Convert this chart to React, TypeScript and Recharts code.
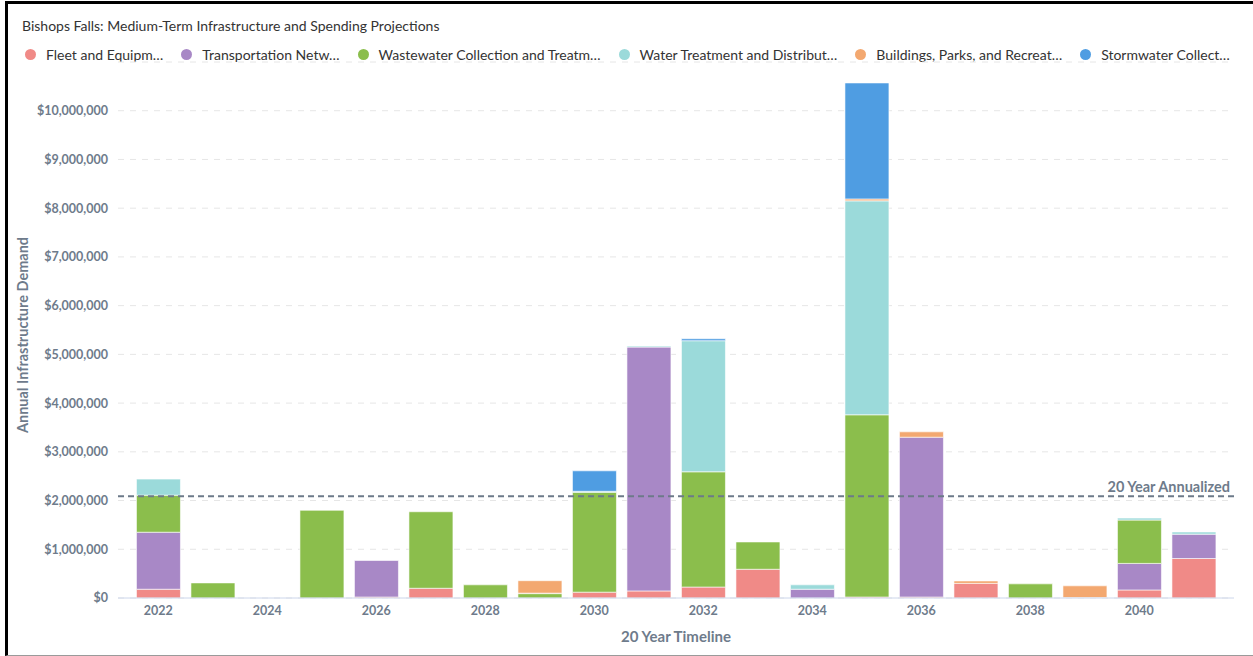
import { BarChart, Bar, XAxis, YAxis, CartesianGrid, ReferenceLine } from 'recharts';

const years = ['2022', '2023', '2024', '2025', '2026', '2027', '2028', '2029', '2030', '2031', '2032', '2033', '2034', '2035', '2036', '2037', '2038', '2039', '2040', '2041'];

const fleet = [180000, 0, 0, 0, 20000, 200000, 0, 0, 120000, 145000, 225000, 590000, 0, 20000, 20000, 300000, 0, 0, 165000, 810000];
const transportation = [1170000, 0, 0, 0, 750000, 0, 0, 0, 0, 5005000, 0, 0, 180000, 0, 3280000, 0, 0, 0, 545000, 500000];
const wastewater = [760000, 310000, 0, 1800000, 0, 1570000, 270000, 90000, 2050000, 0, 2365000, 560000, 0, 3740000, 0, 0, 290000, 0, 890000, 0];
const water = [330000, 0, 0, 0, 0, 0, 0, 10000, 20000, 20000, 2690000, 0, 90000, 4390000, 0, 0, 0, 10000, 40000, 45000];
const buildings = [0, 0, 0, 0, 0, 0, 0, 255000, 0, 0, 0, 0, 0, 40000, 110000, 50000, 0, 240000, 0, 0];
const stormwater = [0, 0, 0, 0, 0, 0, 0, 0, 420000, 0, 40000, 0, 0, 2380000, 0, 0, 0, 0, 0, 0];

const annualized = 2090000;
const yTicks = [0, 1000000, 2000000, 3000000, 4000000, 5000000, 6000000, 7000000, 8000000, 9000000, 10000000];

const series = [
  { key: 'fleet', name: 'Fleet and Equipment', short: 'Fleet and Equipm…', color: '#f08a87', values: fleet },
  { key: 'transportation', name: 'Transportation Network', short: 'Transportation Netw…', color: '#a888c6', values: transportation },
  { key: 'wastewater', name: 'Wastewater Collection and Treatment', short: 'Wastewater Collection and Treatm…', color: '#8bbe4c', values: wastewater },
  { key: 'water', name: 'Water Treatment and Distribution', short: 'Water Treatment and Distribut…', color: '#9bdada', values: water },
  { key: 'buildings', name: 'Buildings, Parks, and Recreation', short: 'Buildings, Parks, and Recreat…', color: '#f3a870', values: buildings },
  { key: 'stormwater', name: 'Stormwater Collection', short: 'Stormwater Collect…', color: '#4f9de2', values: stormwater },
];

const data = years.map((year, i) => {
  const row: Record<string, string | number> = { year };
  series.forEach(s => {
    row[s.key] = s.values[i];
  });
  return row;
});

const AXIS_TEXT = '#6e7b8b';
const FONT = 'Lato, "Open Sans", sans-serif';

export default function App() {
  return (
    <div style={{ position: 'absolute', left: 0, top: 0, width: 1253, height: 656, background: '#fff', overflow: 'hidden', fontFamily: FONT }}>
      <div
        style={{
          position: 'absolute', left: 5, top: 1, width: 1260, height: 655, boxSizing: 'border-box',
          borderTop: '3px solid #000', borderLeft: '3px solid #000', borderBottom: '1px solid #9a9a9a',
        }}
      />
      <div style={{ position: 'absolute', left: 22, top: 17, fontSize: 14, color: '#333' }}>
        Bishops Falls: Medium-Term Infrastructure and Spending Projections
      </div>
      <div style={{ position: 'absolute', left: 25, top: 46, display: 'flex', alignItems: 'center', fontSize: 14, color: '#333' }}>
        {series.map(s => (
          <div key={s.key} style={{ display: 'flex', alignItems: 'center', marginRight: 18 }}>
            <span style={{ width: 11, height: 11, borderRadius: '50%', background: s.color, marginRight: 10 }} />
            <span>{s.short}</span>
          </div>
        ))}
      </div>

      <BarChart
        width={1253}
        height={656}
        data={data}
        margin={{ top: 62, right: 19, left: 0, bottom: 18 }}
        barCategoryGap="10%"
        style={{ position: 'absolute', left: 0, top: 0 }}
      >
        <CartesianGrid vertical={false} stroke="#e6e6e6" strokeDasharray="6 6" />
        <XAxis
          dataKey="year"
          height={40}
          interval={1}
          padding={{ left: 13, right: 13 }}
          tickLine={false}
          tickMargin={2}
          axisLine={{ stroke: '#ccd6eb' }}
          tick={{ fill: AXIS_TEXT, fontSize: 12.5, fontWeight: 700, fontFamily: FONT }}
          label={{
            content: (props: any) => {
              const vb = props.viewBox || {};
              return (
                <text x={vb.x + vb.width / 2} y={636} textAnchor="middle" dominantBaseline="central"
                  fill={AXIS_TEXT} fontSize={15} fontWeight={700} fontFamily={FONT}>
                  20 Year Timeline
                </text>
              );
            },
          }}
        />
        <YAxis
          width={118}
          domain={[0, 11000000]}
          ticks={yTicks}
          interval={0}
          axisLine={false}
          tickLine={false}
          tickMargin={4}
          tickFormatter={(v: number) => `$${v.toLocaleString('en-US')}`}
          tick={{ fill: AXIS_TEXT, fontSize: 12.5, fontWeight: 700, fontFamily: FONT }}
          label={{
            content: () => (
              <text transform="translate(22,335) rotate(-90)" textAnchor="middle" dominantBaseline="central"
                fill={AXIS_TEXT} fontSize={14.5} fontWeight={700} fontFamily={FONT}>
                Annual Infrastructure Demand
              </text>
            ),
          }}
        />
        {series.map(s => (
          <Bar
            key={s.key}
            dataKey={s.key}
            name={s.name}
            stackId="a"
            fill={s.color}
            stroke="#ffffff"
            strokeOpacity={0.6}
            strokeWidth={1}
            isAnimationActive={false}
          />
        ))}
        <ReferenceLine
          y={annualized}
          stroke="#6c7a89"
          strokeWidth={2}
          strokeDasharray="6 4"
          label={{
            value: '20 Year Annualized',
            position: 'insideBottomRight',
            offset: 4,
            fill: AXIS_TEXT,
            fontSize: 14.5,
            fontWeight: 700,
            fontFamily: FONT,
          }}
        />
      </BarChart>
    </div>
  );
}
